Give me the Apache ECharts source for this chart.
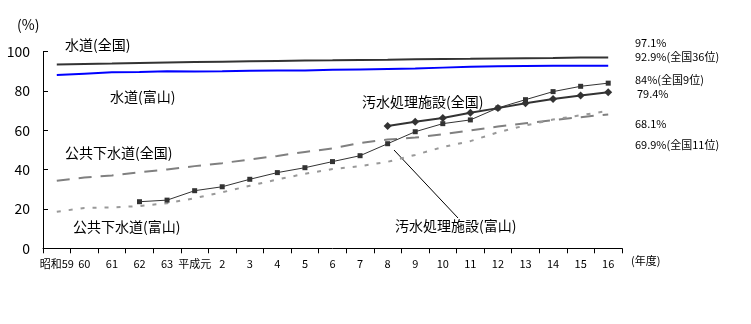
<!DOCTYPE html>
<html>
<head>
<meta charset="utf-8">
<script src="https://cdn.jsdelivr.net/npm/echarts@6/dist/echarts.min.js"></script>
<style>html,body{margin:0;padding:0;background:#fff;}#c{width:751px;height:324px;}</style>
</head>
<body>
<div id="c"></div>
<script>
var categories = ['昭和59','60','61','62','63','平成元','2','3','4','5','6','7','8','9','10','11','12','13','14','15','16'];
var yTicks = [0,20,40,60,80,100];
var waterNational = [93.5,93.8,94.0,94.3,94.5,94.7,94.9,95.1,95.3,95.5,95.6,95.8,95.9,96.1,96.3,96.4,96.6,96.7,96.8,97.0,97.1];
var waterToyama = [88.1,88.8,89.5,89.7,90.0,89.9,90.0,90.3,90.4,90.5,90.8,91.0,91.2,91.4,91.9,92.3,92.6,92.7,92.8,92.9,92.9];
var sewerNational = [34.4,36.0,37.0,38.7,40.1,41.8,43.3,45.2,47.0,49.0,50.8,53.6,55.3,56.3,58.0,60.0,61.9,63.6,65.2,66.7,68.1];
var sewerToyama = [18.6,20.5,20.8,21.5,22.9,25.5,28.5,31.8,35.0,37.9,40.3,41.8,44.0,47.5,51.5,54.5,59.0,62.5,65.5,67.7,69.9];
var treatNational = [null,null,null,null,null,null,null,null,null,null,null,null,62.2,64.4,66.3,69.0,71.3,73.8,75.9,77.7,79.4];
var treatToyama = [null,null,null,23.7,24.5,29.3,31.3,35.1,38.5,41.0,44.1,47.1,53.2,59.3,63.4,65.3,71.4,75.6,79.7,82.4,84.0];

var FONT = '"Noto Sans CJK JP", sans-serif';
var chart = echarts.init(document.getElementById('c'), null, {renderer:'canvas'});

function txt(x, y, s, size) {
  return {type:'text', x:x, y:y, style:{text:s, font: size + 'px ' + FONT, fill:'#000', align:'left', verticalAlign:'middle'}};
}

chart.setOption({
  animation:false,
  backgroundColor:'#fff',
  grid:{left:43, right:129, top:51.7, bottom:75.7},
  xAxis:{
    type:'category', data:categories, boundaryGap:true,
    axisLine:{lineStyle:{color:'#000', width:1}},
    axisTick:{show:true, length:5, lineStyle:{color:'#000'}},
    axisLabel:{interval:0, fontSize:11, color:'#000', margin:10, fontFamily:FONT},
    splitLine:{show:false}
  },
  yAxis:{
    type:'value', min:0, max:100, interval:20,
    axisLine:{show:true, lineStyle:{color:'#000', width:1}},
    axisTick:{show:true, inside:true, length:5, lineStyle:{color:'#000'}},
    axisLabel:{fontSize:14, color:'#000', margin:13, fontFamily:FONT},
    splitLine:{show:false}
  },
  series:[
    {name:'水道(全国)', type:'line', data:waterNational, symbol:'none', lineStyle:{color:'#333333', width:2}, z:3},
    {name:'水道(富山)', type:'line', data:waterToyama, symbol:'none', lineStyle:{color:'#0000ff', width:2}, z:3},
    {name:'公共下水道(全国)', type:'line', data:sewerNational, symbol:'none', lineStyle:{color:'#808080', width:2, type:[13,9]}, z:2},
    {name:'公共下水道(富山)', type:'line', data:sewerToyama, symbol:'none', lineStyle:{color:'#999999', width:2, type:[4,8]}, z:2},
    {name:'汚水処理施設(全国)', type:'line', data:treatNational, symbol:'diamond', symbolSize:8, itemStyle:{color:'#333333'}, lineStyle:{color:'#333333', width:2}, z:4},
    {name:'汚水処理施設(富山)', type:'line', data:treatToyama, symbol:'rect', symbolSize:5, itemStyle:{color:'#333333'}, lineStyle:{color:'#333333', width:1}, z:4}
  ],
  graphic:[
    txt(17, 25, '(%)', 14),
    txt(65, 45, '水道(全国)', 14),
    txt(110, 97, '水道(富山)', 14),
    txt(362, 102, '汚水処理施設(全国)', 14),
    txt(65, 153, '公共下水道(全国)', 14),
    txt(73, 227, '公共下水道(富山)', 14),
    txt(395, 226, '汚水処理施設(富山)', 14),
    txt(631, 261, '(年度)', 11),
    txt(635, 43, '97.1%', 11),
    txt(635, 57, '92.9%(全国36位)', 11),
    txt(635, 80, '84%(全国9位)', 11),
    txt(637, 94, '79.4%', 11),
    txt(635, 124, '68.1%', 11),
    txt(635, 145, '69.9%(全国11位)', 11),
    {type:'line', shape:{x1:394, y1:150, x2:458, y2:218}, style:{stroke:'#000', lineWidth:1}}
  ]
});
</script>
</body>
</html>
